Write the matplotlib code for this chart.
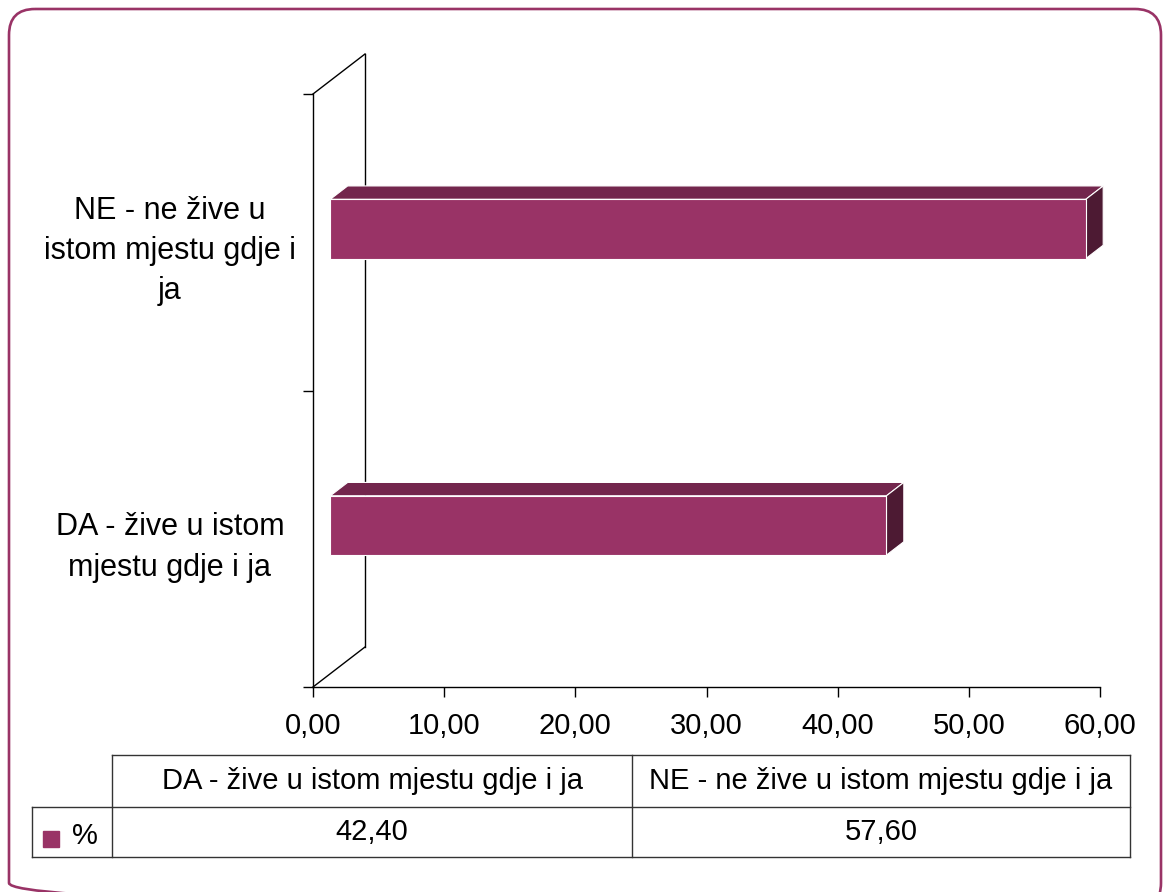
import matplotlib.pyplot as plt
from matplotlib.patches import Polygon, FancyBboxPatch, Rectangle

plt.rcParams['font.family'] = ['Liberation Sans', 'DejaVu Sans']

categories = ['DA - žive u istom\nmjestu gdje i ja', 'NE - ne žive u\nistom mjestu gdje i\nja']
table_headers = ['DA - žive u istom mjestu gdje i ja', 'NE - ne žive u istom mjestu gdje i ja']
values = [42.40, 57.60]
series_name = '%'
xticks = [0, 10, 20, 30, 40, 50, 60]

front_col = '#993366'
top_col = '#73264d'
side_col = '#4d1a33'

W, H = 1163, 892
fig = plt.figure(figsize=(W / 100, H / 100), dpi=100)

# background layer in pixel coords: frame + data table
bg = fig.add_axes([0, 0, 1, 1])
bg.set_xlim(0, W)
bg.set_ylim(H, 0)
bg.axis('off')
bg.add_patch(FancyBboxPatch((9, 9), 1152, 900, boxstyle='round,pad=0,rounding_size=26',
                            fill=False, ec=front_col, lw=1.9, clip_on=True))

# table
tc = '#333333'
bg.plot([112, 1130], [755, 755], color=tc, lw=1)
bg.plot([32, 1130], [807, 807], color=tc, lw=1)
bg.plot([32, 1130], [857, 857], color=tc, lw=1)
bg.plot([32, 32], [807, 857], color=tc, lw=1)
for xx in [112, 632, 1130]:
    bg.plot([xx, xx], [755, 857], color=tc, lw=1)
col_centers = [372, 881]
for cx, hdr, v in zip(col_centers, table_headers, values):
    bg.text(cx, 781, hdr, ha='center', va='center', fontsize=21)
    bg.text(cx, 832, f'{v:.2f}'.replace('.', ','), ha='center', va='center', fontsize=21)
bg.add_patch(Rectangle((43, 831), 16, 16, color=front_col))
bg.text(85, 836, series_name, ha='center', va='center', fontsize=21)

# chart
ax_l, ax_r, ax_t, ax_b = 313, 1100, 94, 687
ax = fig.add_axes([ax_l / W, (H - ax_b) / H, (ax_r - ax_l) / W, (ax_b - ax_t) / H])
ax.patch.set_alpha(0)
ax.set_xlim(0, 60)
ax.set_ylim(0, 2)
for s in ['top', 'right']:
    ax.spines[s].set_visible(False)
for s in ['left', 'bottom']:
    ax.spines[s].set_color('black')
    ax.spines[s].set_linewidth(1)

DX, DY = 52, 40
ddx = DX * 60 / (ax_r - ax_l)
ddy = DY * 2 / (ax_b - ax_t)

# side wall (behind the bars)
kw = dict(color='black', lw=1, clip_on=False, zorder=0.5)
ax.plot([ddx, ddx], [ddy, 2 + ddy], **kw)
ax.plot([0, ddx], [2, 2 + ddy], **kw)
ax.plot([0, ddx], [0, ddy], **kw)

h = 0.1
for i, v in enumerate(values):
    c = i + 0.5
    x0, x1 = ddx / 3, v + ddx / 3
    y0, y1 = c - h + ddy / 3, c + h + ddy / 3
    top = Polygon([(x0, y1), (x1, y1), (x1 + ddx / 3, y1 + ddy / 3), (x0 + ddx / 3, y1 + ddy / 3)],
                  closed=True, fc=top_col, ec='white', lw=0.8, clip_on=False)
    side = Polygon([(x1, y0), (x1, y1), (x1 + ddx / 3, y1 + ddy / 3), (x1 + ddx / 3, y0 + ddy / 3)],
                   closed=True, fc=side_col, ec='white', lw=0.8, clip_on=False)
    front = Rectangle((x0, y0), x1 - x0, y1 - y0, fc=front_col, ec='white', lw=0.8, clip_on=False)
    ax.add_patch(top)
    ax.add_patch(side)
    ax.add_patch(front)

ax.set_xticks(xticks)
ax.set_xticklabels([f'{t:.2f}'.replace('.', ',') for t in xticks], fontsize=21)
ax.tick_params(axis='x', direction='out', length=7, width=1, pad=11)

ax.set_yticks([0, 1, 2])
ax.set_yticklabels([])
ax.tick_params(axis='y', which='major', direction='out', length=7, width=1)
ax.set_yticks([0.5, 1.5], minor=True)
ax.set_yticklabels(categories, minor=True, fontsize=22, ha='center', multialignment='center',
                   linespacing=1.45)
ax.tick_params(axis='y', which='minor', length=0, pad=103)

fig.savefig('out.png', dpi=100)
